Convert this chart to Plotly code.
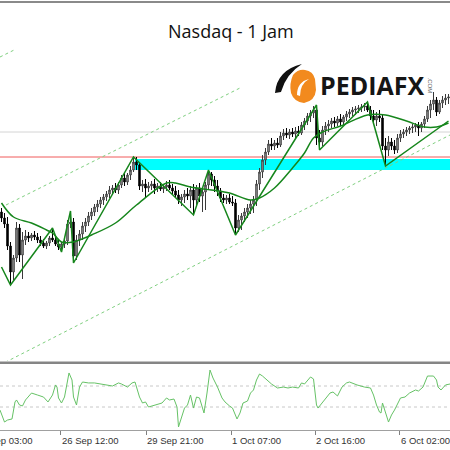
import plotly.graph_objects as go

# ---- hourly Nasdaq bars (bar index 0..149) ----
bar = list(range(150))

open_px = [
    24552, 24528, 24504, 24416, 24312, 24368, 24488, 24380, 24440, 24456,
    24448, 24460, 24452, 24440, 24428, 24416, 24428, 24448, 24440, 24424,
    24412, 24424, 24436, 24504, 24512, 24376, 24440, 24464, 24496, 24512,
    24536, 24552, 24572, 24584, 24600, 24612, 24624, 24640, 24648, 24640,
    24660, 24688, 24672, 24700, 24720, 24752, 24740, 24656, 24664, 24648,
    24656, 24664, 24648, 24656, 24644, 24652, 24660, 24648, 24636, 24620,
    24600, 24612, 24624, 24616, 24640, 24600, 24648, 24616, 24632, 24660,
    24704, 24680, 24656, 24636, 24608, 24600, 24608, 24592, 24588, 24488,
    24520, 24536, 24552, 24568, 24584, 24600, 24664, 24712, 24760, 24792,
    24824, 24816, 24828, 24820, 24856, 24868, 24860, 24872, 24864, 24876,
    24868, 24900, 24916, 24936, 24948, 24960, 24848, 24832, 24880, 24896,
    24904, 24916, 24908, 24924, 24912, 24932, 24944, 24952, 24960, 24964,
    24968, 24972, 24976, 24960, 24936, 24920, 24936, 24928, 24816, 24800,
    24832, 24816, 24800, 24848, 24864, 24872, 24880, 24888, 24892, 24900,
    24888, 24904, 24924, 24960, 24984, 25000, 24952, 24988, 25000, 25008,
]
close_px = open_px[1:] + [25012]
high_px = [
    24568, 24548, 24532, 24432, 24380, 24512, 24504, 24472, 24480, 24472,
    24468, 24476, 24468, 24456, 24444, 24436, 24456, 24488, 24456, 24440,
    24432, 24448, 24520, 24556, 24528, 24460, 24480, 24512, 24528, 24552,
    24568, 24584, 24600, 24612, 24624, 24636, 24656, 24660, 24668, 24672,
    24700, 24712, 24708, 24736, 24772, 24772, 24752, 24680, 24684, 24672,
    24676, 24684, 24668, 24672, 24664, 24676, 24680, 24664, 24656, 24640,
    24624, 24640, 24648, 24656, 24664, 24660, 24668, 24648, 24672, 24720,
    24712, 24696, 24680, 24648, 24624, 24620, 24624, 24616, 24604, 24540,
    24548, 24568, 24584, 24600, 24616, 24680, 24728, 24780, 24808, 24840,
    24848, 24840, 24848, 24872, 24884, 24888, 24884, 24888, 24892, 24896,
    24912, 24928, 24948, 24960, 24976, 24980, 24880, 24896, 24912, 24920,
    24928, 24932, 24936, 24944, 24940, 24956, 24964, 24972, 24976, 24980,
    24984, 24988, 24992, 24976, 24960, 24952, 24960, 24944, 24848, 24856,
    24848, 24840, 24864, 24880, 24884, 24892, 24896, 24904, 24908, 24912,
    24912, 24936, 24976, 25000, 25032, 25012, 25000, 25016, 25024, 25024,
]
low_px = [
    24512, 24488, 24400, 24260, 24280, 24352, 24352, 24284, 24420, 24432,
    24436, 24440, 24428, 24416, 24408, 24404, 24416, 24432, 24416, 24400,
    24392, 24408, 24420, 24488, 24348, 24360, 24416, 24440, 24472, 24496,
    24520, 24536, 24552, 24568, 24580, 24596, 24608, 24620, 24628, 24624,
    24648, 24656, 24660, 24680, 24712, 24720, 24640, 24632, 24608, 24632,
    24640, 24624, 24632, 24636, 24628, 24636, 24640, 24624, 24608, 24584,
    24576, 24588, 24600, 24568, 24540, 24580, 24592, 24552, 24560, 24640,
    24656, 24632, 24616, 24592, 24588, 24584, 24584, 24576, 24460, 24472,
    24480, 24512, 24528, 24544, 24548, 24576, 24640, 24688, 24740, 24780,
    24800, 24800, 24808, 24812, 24840, 24848, 24844, 24852, 24848, 24856,
    24860, 24880, 24900, 24912, 24928, 24820, 24800, 24816, 24860, 24872,
    24888, 24892, 24896, 24896, 24900, 24916, 24928, 24936, 24940, 24948,
    24952, 24956, 24952, 24920, 24904, 24896, 24912, 24800, 24736, 24776,
    24800, 24784, 24788, 24832, 24848, 24856, 24864, 24868, 24872, 24856,
    24872, 24888, 24912, 24928, 24960, 24936, 24944, 24968, 24980, 24984,
]

# moving average
ma_bar = [0, 4, 10, 15, 17, 20, 24, 26, 30, 38, 45, 55, 58, 63, 70, 76, 83, 86,
          91, 97, 101, 104, 107, 113, 122, 128, 135, 141, 145, 149]
ma_val = [24588, 24532, 24508, 24480, 24468, 24432, 24432, 24440, 24460, 24508,
          24580, 24668, 24668, 24652, 24640, 24628, 24600, 24608, 24648, 24728,
          24788, 24848, 24872, 24896, 24940, 24940, 24916, 24892, 24892, 24908]

# zigzag swing points
zz_bar = [0, 3, 17, 20, 23, 24, 44, 64, 69, 78, 105, 106, 122, 128, 149]
zz_val = [24332, 24260, 24488, 24392, 24556, 24348, 24772, 24540, 24720, 24460,
          24980, 24800, 24992, 24736, 24916]

# channel trend lines (end points)
chan_lo_bar = [-0.5, 149.5]
chan_lo_val = [23940, 24860]
chan_mid_bar = [1.5, 79.5]
chan_mid_val = [24580, 25048]
chan_up_bar = [-0.5, 4.2]
chan_up_val = [25172, 25200]

# horizontal levels
resist_level = 24772
upper_level = 24872
zone_lo, zone_hi, zone_start = 24720, 24764, 44.5

# CCI oscillator
osc_bar = [-0.5, 1, 2, 3.5, 4.5, 5, 6, 7, 8, 10,
           12, 14, 15.5, 17, 18, 18.5, 19, 20, 21, 22.5,
           23.5, 24, 25, 26, 27, 29, 31, 33, 35, 37,
           39, 40, 42, 43.5, 44.5, 46, 47, 48, 49, 51,
           53.5, 55, 56, 57.5, 58.5, 59, 60, 61, 62, 63,
           64, 65, 66, 67, 67.5, 68.5, 69.5, 70.5, 72, 73.5,
           74.5, 76, 77, 78.5, 79.5, 80.5, 82, 83, 84, 85,
           86, 87, 88.5, 90, 92, 94, 95.5, 97, 99, 100,
           101, 103, 104, 105, 105.5, 107, 109.5, 110.5, 112, 113.5,
           115, 116, 118.5, 121, 123, 124, 125, 126, 126.5, 127,
           128, 129, 130, 131, 133, 134.5, 136, 138, 139, 140.5,
           142, 144, 145, 145.5, 146.5, 148, 149.5]
osc_val = [-129, -243, -224, -214, -52, -33, -81, -90, -33, 33,
           14, -5, -52, 14, 110, 90, -14, -62, -5, 224,
           157, -5, -81, 90, 138, 129, 129, 119, 110, 100,
           129, 119, 90, 129, 138, -5, -62, -52, -100, -81,
           -62, -14, -33, -24, -100, -290, -195, -110, -81, 14,
           -110, -5, -14, -100, -157, 33, 252, 176, 90, -14,
           -52, -90, -110, -214, -157, -62, -43, 33, 62, 157,
           214, 195, 157, 119, 81, 90, 81, 90, 81, 129,
           119, 186, 167, -81, -110, -52, 33, 43, 5, 90,
           129, 138, 110, 90, 81, 14, -81, -148, -157, -62,
           -148, -243, -176, -129, -14, -5, 33, 62, 52, 90,
           195, 195, 157, 90, 62, 110, 119]
osc_levels = [100, -100]

# time axis labels
tick_bar = [-8.8, 19.8, 48.2, 76.5, 104.5, 132.8]
tick_text = ["25 Sep 03:00", "26 Sep 12:00", "29 Sep 21:00",
             "1 Oct 07:00", "2 Oct 16:00", "6 Oct 02:00"]

W, H = 450, 450
TOP, BOT = 2, 20
PLOT_H = H - TOP - BOT


def pp(x, y):
    """pixel -> paper coords"""
    return x / W, (H - BOT - y) / PLOT_H


def path(points):
    parts = []
    for cmd, pts in points:
        coords = " ".join("%.4f,%.4f" % pp(x, y) for x, y in pts)
        parts.append(cmd + coords)
    return " ".join(parts) + " Z"


GREEN = "#16861c"
LIGHT_GREEN = "#7fcf7f"

fig = go.Figure()

fig.add_trace(go.Candlestick(
    x=bar, open=open_px, high=high_px, low=low_px, close=close_px,
    increasing=dict(line=dict(color="#3a3a3a", width=1), fillcolor="#b4b4b4"),
    decreasing=dict(line=dict(color="#000000", width=1), fillcolor="#000000"),
    whiskerwidth=0, showlegend=False, hoverinfo="skip",
    xaxis="x", yaxis="y"
))

for bx, by in [(chan_lo_bar, chan_lo_val), (chan_mid_bar, chan_mid_val), (chan_up_bar, chan_up_val)]:
    fig.add_trace(go.Scatter(x=bx, y=by, mode="lines",
                             line=dict(color=LIGHT_GREEN, width=1, dash="dot"),
                             showlegend=False, hoverinfo="skip", xaxis="x", yaxis="y"))

fig.add_trace(go.Scatter(x=ma_bar, y=ma_val, mode="lines",
                         line=dict(color=GREEN, width=1.5, shape="spline", smoothing=1.0),
                         showlegend=False, hoverinfo="skip", xaxis="x", yaxis="y"))
fig.add_trace(go.Scatter(x=zz_bar, y=zz_val, mode="lines",
                         line=dict(color=GREEN, width=1.5),
                         showlegend=False, hoverinfo="skip", xaxis="x", yaxis="y"))

fig.add_trace(go.Scatter(x=osc_bar, y=osc_val, mode="lines",
                         line=dict(color="#66c266", width=1),
                         showlegend=False, hoverinfo="skip", xaxis="x2", yaxis="y2"))

shapes = [
    # support zone and levels
    dict(type="rect", xref="x", yref="y", x0=zone_start, x1=149.5, y0=zone_lo, y1=zone_hi,
         fillcolor="#00ffff", line=dict(width=0), layer="below"),
    dict(type="line", xref="x", yref="y", x0=-0.5, x1=149.5, y0=resist_level, y1=resist_level,
         line=dict(color="#f05a5a", width=1), layer="below"),
    dict(type="line", xref="x", yref="y", x0=-0.5, x1=149.5, y0=upper_level, y1=upper_level,
         line=dict(color="#d4d4d4", width=1), layer="below"),
    # frame lines
    dict(type="line", xref="paper", yref="paper", x0=0, x1=1, y0=1, y1=1,
         line=dict(color="#8a8a8a", width=2)),
    dict(type="line", xref="paper", yref="paper", x0=0, x1=1,
         y0=pp(0, 362.8)[1], y1=pp(0, 362.8)[1], line=dict(color="#858585", width=2.5)),
]
for lv in osc_levels:
    shapes.append(dict(type="line", xref="x2", yref="y2", x0=-0.5, x1=149.5, y0=lv, y1=lv,
                       line=dict(color="#c8c8c8", width=1, dash="dot"), layer="below"))

# logo icon
shapes.append(dict(type="path", xref="paper", yref="paper", fillcolor="#f28a1e", line=dict(width=0),
                   path=path([("M", [(293, 75)]), ("Q", [(298, 69), (305, 70)]),
                              ("Q", [(313, 71), (315, 79)]), ("L", [(316, 90)]),
                              ("Q", [(315, 101), (304, 103)]), ("Q", [(294, 102), (291, 93)]),
                              ("Q", [(289, 84), (293, 75)])])))
shapes.append(dict(type="path", xref="paper", yref="paper", fillcolor="#ffffff", line=dict(width=0),
                   path=path([("M", [(297, 95)]), ("Q", [(297, 82), (309, 79)]),
                              ("Q", [(300, 84), (300, 96)])])))
shapes.append(dict(type="path", xref="paper", yref="paper", fillcolor="#111111", line=dict(width=0),
                   path=path([("M", [(275, 93)]), ("Q", [(277, 70), (302, 64)]),
                              ("Q", [(286, 74), (281, 92)])])))

annotations = [
    dict(text="Nasdaq - 1 Jam", xref="paper", yref="paper", x=231 / W, y=pp(0, 31)[1],
         xanchor="center", yanchor="middle", showarrow=False,
         font=dict(family="Open Sans", size=18, color="#111111")),
    dict(text="<b>PEDIAFX</b>", xref="paper", yref="paper", x=pp(318, 0)[0], y=pp(0, 85.5)[1],
         xanchor="left", yanchor="middle", showarrow=False,
         font=dict(family="Open Sans", size=25, color="#151515")),
    dict(text=".COM", xref="paper", yref="paper", x=pp(429.5, 0)[0], y=pp(0, 85)[1],
         xanchor="center", yanchor="middle", textangle=90, showarrow=False,
         font=dict(family="Liberation Sans", size=6, color="#666666")),
]
for tb, tt in zip(tick_bar, tick_text):
    annotations.append(dict(text=tt, xref="paper", yref="paper", x=(tb + 0.5) / 150,
                            y=pp(0, 440.5)[1], xanchor="left", yanchor="middle", xshift=-1,
                            showarrow=False,
                            font=dict(family="Liberation Sans", size=9.5, color="#333333")))

fig.update_layout(
    width=W, height=H,
    margin=dict(l=0, r=0, t=TOP, b=BOT),
    paper_bgcolor="white", plot_bgcolor="white",
    showlegend=False,
    xaxis=dict(range=[-0.5, 149.5], anchor="y", showticklabels=False, showgrid=False,
               zeroline=False, rangeslider=dict(visible=False), fixedrange=True),
    yaxis=dict(range=[23956, 25392], domain=[pp(0, 361)[1], 1], visible=False,
               showgrid=False, fixedrange=True),
    xaxis2=dict(range=[-0.5, 149.5], anchor="y2", matches="x", showticklabels=False,
                showgrid=False, zeroline=False, ticks="outside", tickvals=tick_bar,
                ticklen=4, tickcolor="#808080", showline=True, linecolor="#a0a0a0",
                linewidth=1),
    yaxis2=dict(range=[-319, 309.5], domain=[0, pp(0, 364)[1]], visible=False,
                showgrid=False, fixedrange=True),
    shapes=shapes,
    annotations=annotations,
)

# page body has a default 8px margin; drop it so the chart sits at the window corner
fig.write_html("out.html", config={"displayModeBar": False},
               post_script="document.body.style.margin='0';")
